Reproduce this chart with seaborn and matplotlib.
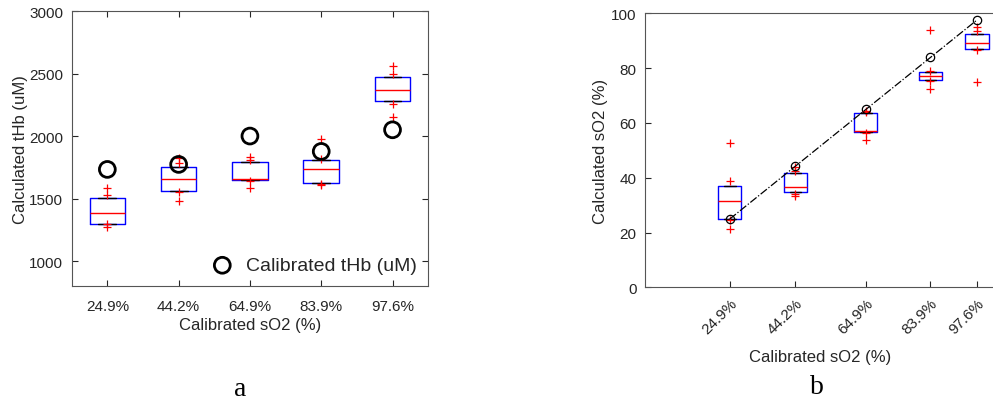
import numpy as np
import pandas as pd
import matplotlib
matplotlib.use("Agg")
import matplotlib.pyplot as plt
import seaborn as sns

sns.set_style("white")
plt.rcParams["font.family"] = ["Liberation Sans", "DejaVu Sans"]
TXT = "#262626"
plt.rcParams["text.color"] = TXT
plt.rcParams["axes.labelcolor"] = TXT
plt.rcParams["xtick.color"] = TXT
plt.rcParams["ytick.color"] = TXT

# Calibrated oxygen saturation levels (%)
so2_levels = [24.9, 44.2, 64.9, 83.9, 97.6]
so2_labels = ["24.9%", "44.2%", "64.9%", "83.9%", "97.6%"]

# Calculated tHb (uM) per saturation level
thb_24 = [1270, 1293, 1300, 1340, 1382, 1440, 1504, 1528, 1585]
thb_44 = [1478, 1555, 1559, 1610, 1655, 1700, 1749, 1781, 1821]
thb_65 = [1583, 1640, 1645, 1650, 1657, 1720, 1789, 1809, 1830]
thb_84 = [1611, 1620, 1625, 1680, 1733, 1770, 1809, 1818, 1978]
thb_98 = [2155, 2257, 2281, 2320, 2370, 2420, 2470, 2495, 2562]
calibrated_thb = [1733, 1773, 2000, 1877, 2050]

# Calculated sO2 (%) per saturation level
so2_24 = [21.3, 24.5, 24.9, 28.0, 31.4, 34.0, 37.1, 38.9, 52.6]
so2_44 = [33.5, 34.0, 34.7, 35.5, 36.7, 39.0, 41.8, 42.5, 43.9]
so2_65 = [53.9, 56.4, 56.8, 57.0, 57.2, 60.0, 63.5, 64.0, 64.3]
so2_84 = [72.4, 75.4, 75.8, 76.5, 77.2, 78.0, 78.5, 79.1, 94.0]
so2_98 = [74.8, 86.5, 87.0, 88.0, 89.3, 91.0, 92.6, 93.4, 94.9]

thb_groups = [thb_24, thb_44, thb_65, thb_84, thb_98]
so2_groups = [so2_24, so2_44, so2_65, so2_84, so2_98]

thb_df = pd.DataFrame(
    [(lab, v) for lab, g in zip(so2_labels, thb_groups) for v in g],
    columns=["level", "thb"],
)
so2_df = pd.DataFrame(
    [(lev, v) for lev, g in zip(so2_levels, so2_groups) for v in g],
    columns=["level", "so2"],
)
cal_thb_df = pd.DataFrame({"level": so2_labels, "thb": calibrated_thb})
cal_so2_df = pd.DataFrame({"level": so2_levels, "so2": so2_levels})

box_kw = dict(
    whis=0,
    fill=False,
    color="blue",
    saturation=1,
    width=0.5,
    linewidth=1.0,
    boxprops=dict(color="blue", linewidth=1.0),
    medianprops=dict(color="red", linewidth=1.0),
    whiskerprops=dict(color="black", linewidth=1.0, linestyle="--"),
    capprops=dict(color="black", linewidth=1.0),
    flierprops=dict(marker="+", markeredgecolor="red", markersize=6,
                    markeredgewidth=0.9),
)

fig = plt.figure(figsize=(9.93, 4.02), dpi=100)
ax1 = fig.add_axes([0.0722, 0.286, 0.3590, 0.684])
ax2 = fig.add_axes([0.6495, 0.2828, 0.3523, 0.6816])

# Panel a: calculated total haemoglobin
sns.boxplot(data=thb_df, x="level", y="thb", order=so2_labels, ax=ax1, **box_kw)
sns.scatterplot(data=cal_thb_df, x="level", y="thb", ax=ax1, marker="o",
                s=130, facecolor="none", edgecolor="black", linewidth=2.0,
                label="Calibrated tHb (uM)", zorder=5)
ax1.set_xlim(-0.5, 4.5)
ax1.set_ylim(800, 3000)
ax1.set_yticks([1000, 1500, 2000, 2500, 3000])
ax1.set_xlabel("Calibrated sO2 (%)", fontsize=12, labelpad=3)
ax1.set_ylabel("Calculated tHb (uM)", fontsize=12, labelpad=1)
ax1.tick_params(direction="in", length=4, width=0.8, labelsize=11,
                top=True, right=True, bottom=True, left=True, pad=6)
ax1.tick_params(axis="x", pad=9)
for sp in ax1.spines.values():
    sp.set_visible(True)
    sp.set_color("#555555")
    sp.set_linewidth(0.8)
leg = ax1.legend(loc="lower right", frameon=False, fontsize=14,
                 handletextpad=0.2, borderaxespad=0.2, markerscale=1.0)

# Panel b: calculated oxygen saturation
sns.boxplot(data=so2_df, x="level", y="so2", native_scale=True, ax=ax2, **box_kw)
sns.lineplot(data=cal_so2_df, x="level", y="so2", ax=ax2, color="black",
             linestyle="-.", linewidth=0.9, marker="o", markersize=6,
             markerfacecolor="none", markeredgecolor="black",
             markeredgewidth=0.9, zorder=5)
ax2.set_xlim(0, 102.8)
ax2.set_ylim(0, 100)
ax2.set_yticks([0, 20, 40, 60, 80, 100])
ax2.set_xticks(so2_levels)
ax2.set_xticklabels(so2_labels, rotation=45, ha="right", rotation_mode="anchor")
ax2.set_xlabel("Calibrated sO2 (%)", fontsize=12, labelpad=9)
ax2.set_ylabel("Calculated sO2 (%)", fontsize=12, labelpad=2)
ax2.tick_params(direction="in", length=4, width=0.8, labelsize=11,
                bottom=True, left=True, pad=6)
for name, sp in ax2.spines.items():
    sp.set_visible(name in ("left", "bottom", "top"))
    sp.set_color("#555555")
    sp.set_linewidth(0.8)

fig.text(0.2417, 0.032, "a", fontsize=20, family="Liberation Serif",
         color="black", ha="center", va="center")
fig.text(0.8225, 0.035, "b", fontsize=20, family="Liberation Serif",
         color="black", ha="center", va="center")

fig.savefig("out.png", dpi=100, facecolor="white")
